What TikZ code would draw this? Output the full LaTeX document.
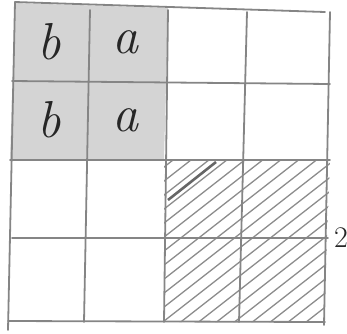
\documentclass[tikz,border=0pt]{standalone}
\begin{document}
\begin{tikzpicture}[x=1pt,y=-1pt,
  gridline/.style={draw=black!48,line width=1.8pt,line cap=round},
  hatch/.style={draw=black!45,line width=1.3pt},
  letter/.style={font=\fontsize{52}{52}\selectfont\itshape,text=black!85,inner sep=0pt},
  lbl/.style={font=\fontsize{30}{30}\selectfont,text=black!85,inner sep=0pt}]
\useasboundingbox (0,0) rectangle (347,333);
% shaded 2x2 block
\fill[black!17] (15,3) -- (168,8) -- (164,160) -- (10,160) -- cycle;
% hatched 2x2 block
\begin{scope}
\clip (164,160) -- (330,160) -- (324,322) -- (164,322) -- cycle;
\foreach \k in {0,...,26}{
  \draw[hatch] (150,{150+\k*14}) -- ++(-38:260);
}
\draw[draw=black!60,line width=2.6pt] (168,200) -- (216,162);
\end{scope}
% grid lines
\draw[gridline] (15,2) -- (8,330);
\draw[gridline] (90,10) -- (84,322);
\draw[gridline] (168,10) -- (164,322);
\draw[gridline] (247,12) -- (239,322);
\draw[gridline] (330,12) -- (324,325);
\draw[gridline] (15,2) -- (325,12);
\draw[gridline] (12,81) -- (330,84);
\draw[gridline] (10,160) -- (330,160);
\draw[gridline] (12,238) -- (328,238);
\draw[gridline] (8,321) -- (325,322);
% letters
\node[letter] (b1) at (49,42) {b};
\node[letter] (a1) at (125,42) {a};
\node[letter] (b2) at (49,120) {b};
\node[letter] (a2) at (125,120) {a};
\node[lbl] (two) at (341,238) {2};
\end{tikzpicture}
\end{document}
